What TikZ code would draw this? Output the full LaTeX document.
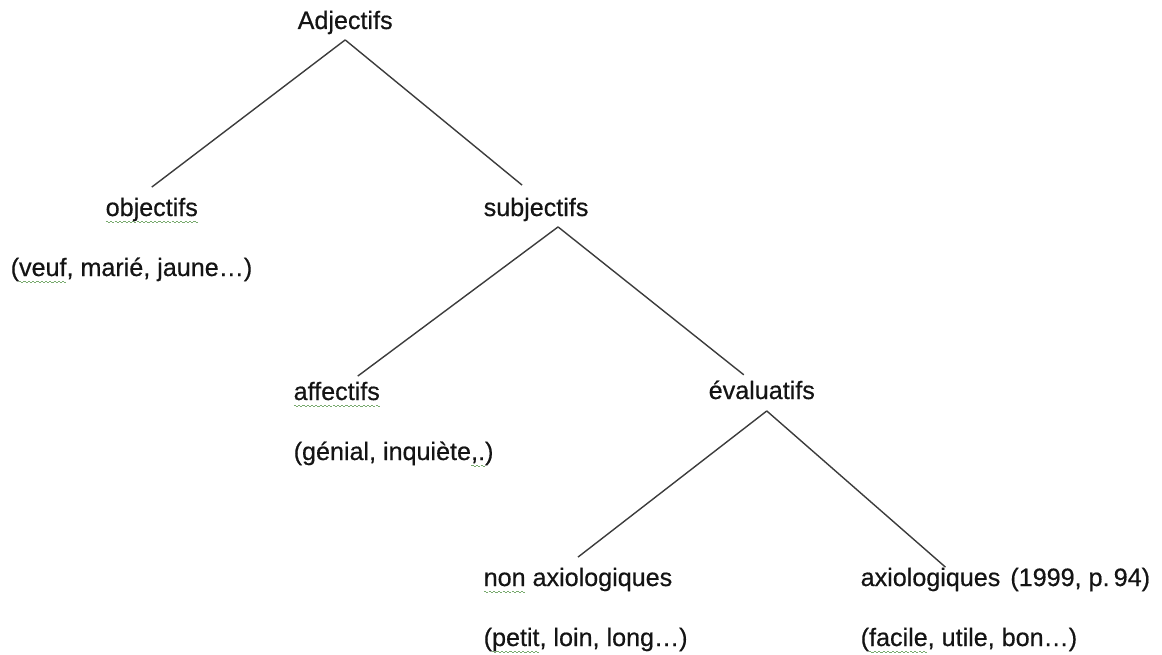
\documentclass[tikz,border=0pt]{standalone}
\usepackage{fontspec}
\setmainfont{Liberation Sans}[FakeBold=0.5]
\definecolor{inkgrey}{RGB}{20,20,20}
\definecolor{linegrey}{RGB}{60,60,60}
\definecolor{sqgreen}{RGB}{120,170,110}
% spell-check squiggle under a word
\newcommand\sqw[1]{\setbox0\hbox{#1}\rlap{\color{sqgreen}\hbox to \wd0{\xleaders\hbox to 2.4pt{\rule[-3.2pt]{1.2pt}{0.6pt}\rule[-3.9pt]{1.2pt}{0.6pt}}\hfill}}\box0\relax}
\begin{document}
\begin{tikzpicture}[x=0.02cm,y=-0.02cm,thick,
            word node/.style={anchor=base west,inner sep=0.1cm,text=inkgrey,font=\fontsize{14.3}{17}\selectfont}]
        \useasboundingbox (0,0) rectangle (1162,655);

        % Define vertices
        \node[word node] (adj) at (292,29) {Adjectifs};
        \node[word node] (obj) at (100,216) {\sqw{objectifs}};
        \node[word node] (objex) at (5,276) {(\sqw{veuf}, marié, jaune…)};
        \node[word node] (subj) at (478,216) {subjectifs};
        \node[word node] (aff) at (288,400) {\sqw{affectifs}};
        \node[word node] (affex) at (288,460) {(génial, inquiète\sqw{,.})};
        \node[word node] (eval) at (703,399) {évaluatifs};
        \node[word node] (nonax) at (478,586) {\sqw{non} axiologiques};
        \node[word node] (nonaxex) at (478,646) {(\sqw{petit}, loin, long…)};
        \node[word node] (ax) at (855,586) {axiologiques\hspace{0.4em}(1999, p.\,94)};
        \node[word node] (axex) at (855,646) {(\sqw{facile}, utile, bon…)};

        % Draw edges
        \path[draw=linegrey]
            (adj.south) edge ([yshift=0.1cm]obj.north)
            (adj.south) edge ([xshift=-0.28cm,yshift=0.14cm]subj.north)
            ([xshift=0.44cm]subj.south) edge ([xshift=0.42cm]aff.north)
            ([xshift=0.44cm]subj.south) edge ([xshift=-0.36cm]eval.north)
            ([xshift=0.1cm,yshift=-0.12cm]eval.south) edge ([yshift=0.1cm]nonax.north)
            ([xshift=0.1cm,yshift=-0.12cm]eval.south) edge ([xshift=-1.2cm,yshift=-0.1cm]ax.north);

        \end{tikzpicture}
\end{document}
